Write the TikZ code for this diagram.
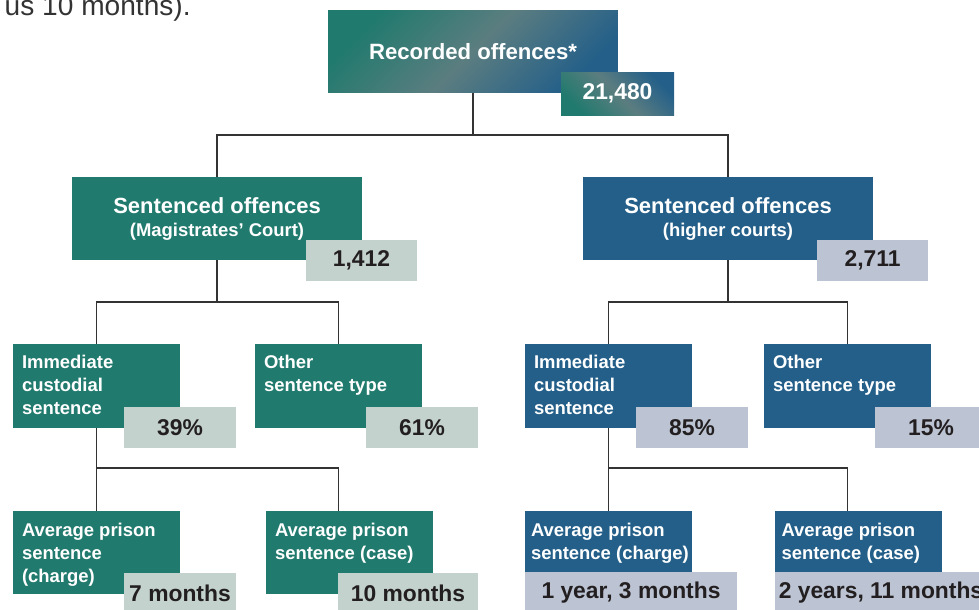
\documentclass[tikz,border=0pt]{standalone}
\usepackage{fontspec}
\setmainfont{Liberation Sans}
\usepackage{tikz}
\usetikzlibrary{positioning}

\definecolor{magigreen}{HTML}{217A6E}
\definecolor{highblue}{HTML}{235F89}
\definecolor{magipale}{HTML}{C3D2CD}
\definecolor{highpale}{HTML}{BCC4D4}
\definecolor{recmid}{HTML}{5B7D80}
\definecolor{valtext}{HTML}{231F20}
\definecolor{linegray}{HTML}{333333}

\begin{document}
\begin{tikzpicture}[x=0.02cm, y=-0.02cm]
        % Setup the styles for the boxes
        \tikzset{big box/.style={rectangle, inner sep=0pt,
                                 minimum width=5.8cm, minimum height=1.66cm,
                                 text=white, align=center,
                                 font=\fontsize{10.5}{13.1}\selectfont\bfseries},
                 small box/.style={rectangle, inner sep=0pt,
                                   minimum width=3.34cm, minimum height=1.68cm},
                 box text/.style={inner sep=0pt, text=white, align=left,
                                  font=\fontsize{10.5}{13}\selectfont\bfseries},
                 value box/.style={rectangle, inner sep=0pt,
                                   minimum width=2.24cm, minimum height=0.82cm,
                                   text=valtext,
                                   font=\fontsize{13}{15}\selectfont\bfseries},
                 tree line/.style={draw=linegray, line width=1pt}}

        \useasboundingbox (0,0) rectangle (979,609);
        \clip (0,0) rectangle (979,609);

        % Text left over from the page above
        \node[anchor=base east, inner sep=0pt, text=black!80,
              font=\fontsize{16}{18}\selectfont] (prevtext) at (191,15) {us 10 months).};

        % Draw the boxes
        \node[big box, left color=magigreen, right color=highblue,
              middle color=recmid, shading angle=45,
              font=\fontsize{12.6}{15}\selectfont\bfseries] (rec) at (473,51.5) {Recorded offences*};
        \node[value box, minimum width=2.26cm, minimum height=0.86cm,
              left color=magigreen, right color=highblue,
              middle color=recmid, shading angle=135, text=white] (recv) at (617.5,93.5) {21,480};

        \node[big box, fill=magigreen] (magi) at (217,218.5)
            {{\fontsize{12.5}{15}\selectfont Sentenced offences}\\(Magistrates' Court)};
        \node[value box, fill=magipale, minimum width=2.22cm] (magiv) at (361.5,260.5) {1,412};
        \node[big box, fill=highblue] (high) at (728,218.5)
            {{\fontsize{12.5}{15}\selectfont Sentenced offences}\\(higher courts)};
        \node[value box, fill=highpale, minimum width=2.22cm] (highv) at (872.5,260.5) {2,711};

        \node[small box, fill=magigreen] (mcust) at (96.5,386) {};
        \node[box text, below right=0.22cm and 0.18cm of mcust.north west] (mcustt) {Immediate\\custodial\\sentence};
        \node[value box, fill=magipale] (mcustv) at (180,427.5) {39\%};
        \node[small box, fill=magigreen] (mother) at (338.5,386) {};
        \node[box text, below right=0.22cm and 0.18cm of mother.north west] (mothert) {Other\\sentence type};
        \node[value box, fill=magipale] (motherv) at (422,427.5) {61\%};
        \node[small box, fill=highblue] (hcust) at (608.5,386) {};
        \node[box text, below right=0.22cm and 0.18cm of hcust.north west] (hcustt) {Immediate\\custodial\\sentence};
        \node[value box, fill=highpale] (hcustv) at (692,427.5) {85\%};
        \node[small box, fill=highblue] (hother) at (847.5,386) {};
        \node[box text, below right=0.22cm and 0.18cm of hother.north west] (hothert) {Other\\sentence type};
        \node[value box, fill=highpale] (hotherv) at (931,427.5) {15\%};

        \node[small box, fill=magigreen, minimum height=1.66cm] (mavgk) at (96.5,552.5) {};
        \node[box text, below right=0.24cm and 0.18cm of mavgk.north west] (mavgkt) {Average prison\\sentence\\(charge)};
        \node[value box, fill=magipale] (mavgkv) at (180,593.5) {7 months};
        \node[small box, fill=magigreen, minimum height=1.66cm] (mavgc) at (349.5,552.5) {};
        \node[box text, below right=0.24cm and 0.18cm of mavgc.north west] (mavgct) {Average prison\\sentence (case)};
        \node[value box, fill=magipale, minimum width=2.8cm] (mavgcv) at (408,593.5) {10 months};
        \node[small box, fill=highblue, minimum height=1.22cm] (havgk) at (608.5,541.5) {};
        \node[box text, below right=0.24cm and 0.12cm of havgk.north west] (havgkt) {Average prison\\sentence (charge)};
        \node[value box, fill=highpale, minimum width=4.24cm] (havgkv) at (631,592.5) {1 year, 3 months};
        \node[small box, fill=highblue, minimum height=1.22cm] (havgc) at (858.5,541.5) {};
        \node[box text, below right=0.24cm and 0.13cm of havgc.north west] (havgct) {Average prison\\sentence (case)};
        \node[value box, fill=highpale, minimum width=4.24cm] (havgcv) at (881,592.5) {2 years, 11 months};

        % Connect the boxes
        \draw[tree line] (rec.south) -- ++(0,42) coordinate (recj) -| (magi.north);
        \draw[tree line] (recj) -| (high.north);
        \draw[tree line] (magi.south) -- ++(0,42) coordinate (magij) -| (mcust.north);
        \draw[tree line] (magij) -| (mother.north);
        \draw[tree line] (high.south) -- ++(0,42) coordinate (highj) -| (hcust.north);
        \draw[tree line] (highj) -| (hother.north);
        \draw[tree line] (mcust.south) -- ++(0,40) coordinate (mcustj) -- (mavgk.north);
        \draw[tree line] (mcustj) -| (mother.south |- mavgc.north);
        \draw[tree line] (hcust.south) -- ++(0,40) coordinate (hcustj) -- (havgk.north);
        \draw[tree line] (hcustj) -| (hother.south |- havgc.north);
\end{tikzpicture}
\end{document}
